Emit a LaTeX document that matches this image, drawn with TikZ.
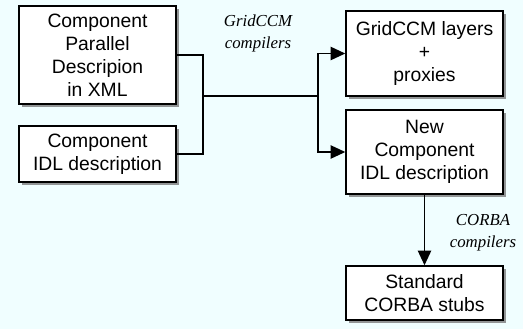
\documentclass[tikz,border=0pt]{standalone}
\usepackage{fontspec}
\setmainfont{Liberation Serif}
\setsansfont{Liberation Sans}
\usetikzlibrary{arrows.meta,shadows}
\definecolor{bgcyan}{HTML}{F0FEFF}

\begin{document}
\begin{tikzpicture}[x=0.75pt, y=-0.75pt,
    box/.style={draw=black, line width=1.1pt, fill=white, align=center,
        inner sep=0pt, font=\sffamily\fontsize{14.5}{17.25}\selectfont,
        drop shadow={shadow xshift=2.5pt, shadow yshift=-2.5pt, fill=black!55, opacity=0.75}},
    lbl/.style={align=center, font=\itshape\fontsize{12.6}{16.5}\selectfont},
    link/.style={line width=1.1pt},
    arrow/.style={link, -{Triangle[length=11pt, width=10pt]}}]

    % Background
    \fill[bgcyan] (0,0) rectangle (523,329);
    \useasboundingbox (0,0) rectangle (523,329);

    % Source descriptions
    \node[box, minimum width=117.75pt, minimum height=73.5pt] (xmldesc) at (97.5,55)
        {Component\\Parallel\\Descripion\\in XML};
    \node[box, minimum width=117.75pt, minimum height=42pt] (idldesc) at (97.5,154)
        {Component\\IDL description};

    % Generated files
    \node[box, minimum width=117.75pt, minimum height=63.75pt] (layers) at (424.5,53.5)
        {GridCCM layers\\+\\proxies};
    \node[box, minimum width=117.75pt, minimum height=63pt] (newidl) at (424.5,152)
        {New\\Component\\IDL description};
    \node[box, minimum width=117.75pt, minimum height=40.5pt] (stubs) at (424.5,293)
        {Standard\\CORBA stubs};

    % Compiler labels
    \node[lbl] (gridlbl) at (258,33.5) {GridCCM\\compilers};
    \node[lbl] (corbalbl) at (483,232.5) {CORBA\\compilers};

    % Connectors
    \coordinate (join) at (203,96);
    \coordinate (split) at (318,96);
    \draw[link] (xmldesc.east) -| (join);
    \draw[link] (idldesc.east) -| (join);
    \draw[link] (join) -- (split);
    \draw[arrow] (split) |- (layers.west);
    \draw[arrow] (split) |- (newidl.west);
    \draw[arrow] (newidl.south) -- (stubs.north);
\end{tikzpicture}
\end{document}
